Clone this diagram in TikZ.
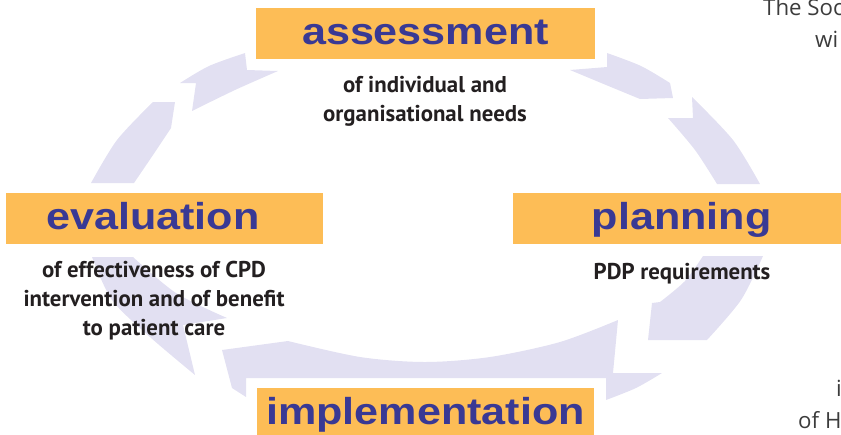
\documentclass[tikz,border=0pt]{standalone}
\usepackage{fontspec}
\newfontfamily\boxfont[FakeStretch=1.15]{Liberation Sans}
\newfontfamily\notefont{PT Sans}
\newfontfamily\pagefont{Open Sans}
\definecolor{boxorange}{RGB}{253,189,86}
\definecolor{boxblue}{RGB}{57,57,148}
\definecolor{ringlilac}{RGB}{226,224,242}
\definecolor{notegray}{RGB}{35,31,32}
\definecolor{pagegray}{RGB}{60,60,60}
\tikzset{
  stagebox/.style={fill=boxorange, text=boxblue, font=\boxfont\bfseries\fontsize{32}{32}\selectfont,
    minimum height=1.53cm, inner sep=0pt, text height=22pt, text depth=4pt},
  note/.style={text=notegray, font=\notefont\bfseries\fontsize{19.5}{24.5}\selectfont,
    align=center, anchor=base, inner sep=0pt},
  pagetext/.style={text=pagegray, font=\pagefont\fontsize{19}{19}\selectfont,
    anchor=base west, inner sep=0pt},
  ring/.style={fill=ringlilac}
}
\begin{document}
\begin{tikzpicture}[x=0.03cm, y=-0.03cm]
  \useasboundingbox (0,0) rectangle (841,434);
  % ring pieces, clockwise from the left
  \fill[ring] plot[smooth] coordinates {(91,183) (117,140) (153,102)} -- (175,102) -- (171,128)
    -- plot[smooth] coordinates {(171,128) (153,155) (134,183)} -- cycle;
  \fill[ring] plot[smooth] coordinates {(180,83) (209,66) (245,53)} -- (247,70) -- (278,71)
    -- plot[smooth] coordinates {(278,71) (235,90) (192,111)} -- (196,83) -- cycle;
  \fill[ring] (570,70) -- (607,67) -- (607,53) -- plot[smooth] coordinates {(607,53) (641,66) (670,83)}
    -- (673,98) -- (640,99) -- plot[smooth] coordinates {(640,99) (606,85) (570,70)} -- cycle;
  \fill[ring] (692,97) -- (693,118) -- (668,118) -- plot[smooth] coordinates {(668,118) (695,150) (717,184)}
    -- (760,184) -- plot[smooth] coordinates {(760,184) (733,140) (692,97)} -- cycle;
  \fill[ring] (703,256) -- (763,256) -- plot[smooth] coordinates {(763,256) (741,300) (707,340)}
    -- (648,340) -- (652,303) -- (660,302) -- plot[smooth] coordinates {(660,302) (685,281) (703,256)} -- cycle;
  \fill[ring] (618,320) -- (613,373) -- (662,373) -- plot[smooth] coordinates {(662,373) (636,388) (606,400)}
    -- (606,378) -- (246,378) -- (246,397) -- (232,388) -- (222,350) -- (288,341)
    -- plot[smooth] coordinates {(288,341) (360,357) (425,362) (490,357) (560,342) (618,320)} -- cycle;
  \fill[ring] (227,318) -- (183,325) -- (195,375) -- plot[smooth] coordinates {(195,375) (150,337) (112,300) (92,257)}
    -- (133,257) -- plot[smooth] coordinates {(133,257) (176,293) (227,318)} -- cycle;
  % stages
  \node[stagebox, minimum width=10.17cm] (assessment) at (425.5,33.5) {assessment};
  \node[stagebox, minimum width=9.51cm] (evaluation) at (164.5,218.5) {evaluation\hspace{0.7cm}\null};
  \node[stagebox, minimum width=10.11cm] (planning) at (681.5,218.5) {planning};
  \node[stagebox, minimum width=10.11cm, minimum height=1.56cm] (implementation) at (425.5,414) {implementation};
  % notes under the stages (base = last line)
  \node[note] (assessment-note) at (425,121) {of individual and\\organisational needs};
  \node[note] (evaluation-note) at (154,335) {of effectiveness of CPD\\intervention and of benefit\\to patient care};
  \node[note] (planning-note) at (682,279) {PDP requirements};
  % page text cut at the edge
  \node[pagetext] (page-1) at (763,15) {The Soc};
  \node[pagetext] (page-2) at (815,47) {wi};
  \node[pagetext] (page-3) at (836,396) {i};
  \node[pagetext] (page-4) at (798,428) {of H};
\end{tikzpicture}
\end{document}
